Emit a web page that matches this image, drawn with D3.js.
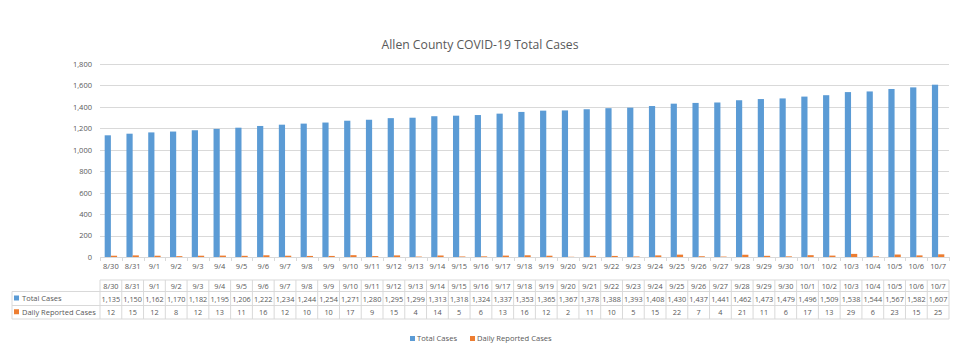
<!DOCTYPE html>
<html><head><meta charset="utf-8">
<script src="https://cdn.jsdelivr.net/npm/d3@7"></script>
<style>body{margin:0;background:#fff}svg{display:block}</style>
</head><body><svg id="c" width="960" height="358"></svg>
<script>
const dates = ["8/30","8/31","9/1","9/2","9/3","9/4","9/5","9/6","9/7","9/8","9/9","9/10","9/11","9/12","9/13","9/14","9/15","9/16","9/17","9/18","9/19","9/20","9/21","9/22","9/23","9/24","9/25","9/26","9/27","9/28","9/29","9/30","10/1","10/2","10/3","10/4","10/5","10/6","10/7"];
const totalCases = [1135,1150,1162,1170,1182,1195,1206,1222,1234,1244,1254,1271,1280,1295,1299,1313,1318,1324,1337,1353,1365,1367,1378,1388,1393,1408,1430,1437,1441,1462,1473,1479,1496,1509,1538,1544,1567,1582,1607];
const dailyCases = [12,15,12,8,12,13,11,16,12,10,10,17,9,15,4,14,5,6,13,16,12,2,11,10,5,15,22,7,4,21,11,6,17,13,29,6,23,15,25];
const yTicks = [0,200,400,600,800,1000,1200,1400,1600,1800];
const seriesNames = ["Total Cases","Daily Reported Cases"];
const colors = ["#5b9bd5","#ed7d31"];

const svg = d3.select("#c");
const font = "'Open Sans', 'Noto Sans', sans-serif";
const txt = "#595959";
const L = 100, R = 949, T = 64, B = 257;

const x = d3.scaleBand().domain(dates).range([L, R]);
const y = d3.scaleLinear().domain([0, 1800]).range([B, T]);
const xs = d3.scaleBand().domain([0,1]).range([0, 12.4]);

svg.append("text").attr("x", 480).attr("y", 49).attr("text-anchor","middle")
  .attr("font-family", font).attr("font-size", 12.2).attr("fill", txt)
  .text("Allen County COVID-19 Total Cases");

// gridlines
svg.append("g").selectAll("line").data(yTicks.filter(d=>d>0)).join("line")
  .attr("x1", L).attr("x2", R).attr("y1", d=>Math.round(y(d))+0.5).attr("y2", d=>Math.round(y(d))+0.5)
  .attr("stroke", "#d9d9d9").attr("stroke-width", 1);

// y axis labels
const ya = svg.append("g").attr("transform", `translate(${L},0)`)
  .call(d3.axisLeft(y).tickValues(yTicks).tickFormat(d3.format(",")).tickSize(0).tickPadding(8));
ya.select(".domain").remove();
ya.selectAll("text").attr("font-family", font).attr("font-size", 7.5).attr("fill", txt);

// bars
const g = svg.append("g");
const series = [totalCases, dailyCases];
series.forEach((vals, si) => {
  g.selectAll(null).data(vals).join("rect")
    .attr("x", (d,i) => x(dates[i]) + x.bandwidth()/2 - 6.2 + xs(si))
    .attr("width", xs.bandwidth())
    .attr("y", d => y(d))
    .attr("height", d => B - y(d))
    .attr("fill", colors[si]);
});

// x axis
const xa = svg.append("g").attr("transform", `translate(0,${B})`)
  .call(d3.axisBottom(x).tickSize(0).tickPadding(7));
xa.select(".domain").attr("stroke", "#d9d9d9");
xa.selectAll("text").attr("font-family", font).attr("font-size", 7.5).attr("fill", txt);
svg.append("g").selectAll("line").data(dates.concat(["end"])).join("line")
  .attr("x1", (d,i)=>Math.round(L + i*x.step())+0.5).attr("x2", (d,i)=>Math.round(L + i*x.step())+0.5)
  .attr("y1", B).attr("y2", B+4).attr("stroke", "#d9d9d9");

// data table
const rowTop = [280, 291.5, 305.5, 319];
const tl = 12;
const tg = svg.append("g");
const lineC = "#d9d9d9";
tg.append("line").attr("x1", L).attr("x2", R).attr("y1", rowTop[0]).attr("y2", rowTop[0]).attr("stroke", lineC);
[1,2,3].forEach(r => tg.append("line").attr("x1", tl).attr("x2", R).attr("y1", rowTop[r]).attr("y2", rowTop[r]).attr("stroke", lineC));
tg.append("line").attr("x1", tl).attr("x2", tl).attr("y1", rowTop[1]).attr("y2", rowTop[3]).attr("stroke", lineC);
tg.selectAll(null).data(d3.range(dates.length+1)).join("line")
  .attr("x1", i => L + i*x.step()).attr("x2", i => L + i*x.step())
  .attr("y1", rowTop[0]).attr("y2", rowTop[3]).attr("stroke", lineC);

const cellText = (vals, r, fmt) => tg.selectAll(null).data(vals).join("text")
  .attr("x", (d,i) => x(dates[i]) + x.bandwidth()/2)
  .attr("y", (rowTop[r] + rowTop[r+1])/2 + 3)
  .attr("text-anchor", "middle").attr("font-family", font).attr("font-size", 7.3)
  .attr("fill", txt).text(fmt);
cellText(dates, 0, d => d);
cellText(totalCases, 1, d3.format(","));
cellText(dailyCases, 2, d => d);

seriesNames.forEach((n, si) => {
  const cy = (rowTop[si+1] + rowTop[si+2]) / 2;
  tg.append("rect").attr("x", 14).attr("y", cy-3).attr("width", 5).attr("height", 5).attr("fill", colors[si]);
  tg.append("text").attr("x", 22).attr("y", cy+2.5).attr("font-family", font).attr("font-size", 7.5)
    .attr("fill", txt).text(n);
});

// legend
const legX = [410, 470];
seriesNames.forEach((n, si) => {
  svg.append("rect").attr("x", legX[si]).attr("y", 336).attr("width", 5).attr("height", 5).attr("fill", colors[si]);
  svg.append("text").attr("x", legX[si]+7).attr("y", 341).attr("font-family", font).attr("font-size", 7.6)
    .attr("fill", txt).text(n);
});
</script></body></html>
